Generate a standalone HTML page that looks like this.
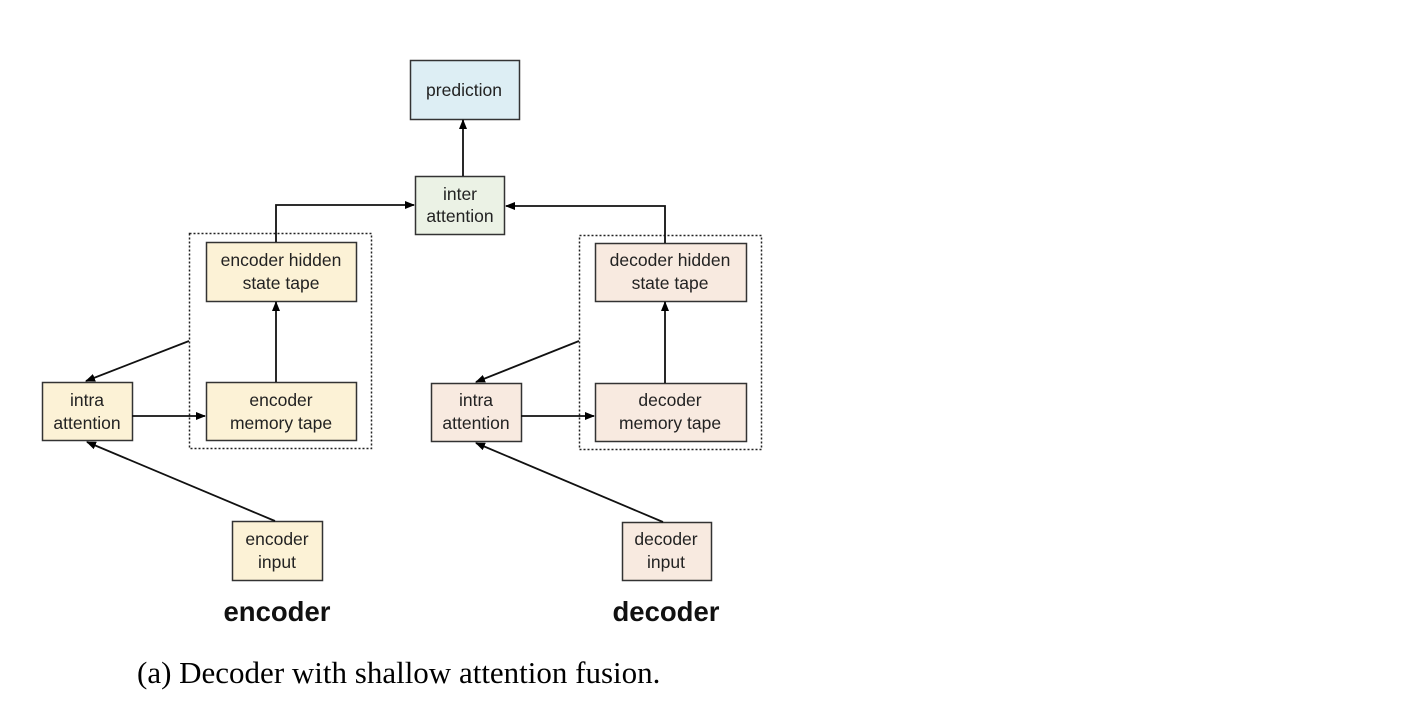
<!DOCTYPE html>
<html><head><meta charset="utf-8"><style>
html,body{margin:0;padding:0;background:#fff;}
body{width:1426px;height:702px;overflow:hidden;position:relative;}
</style></head><body>
<svg width="1426" height="702" xmlns="http://www.w3.org/2000/svg" style="position:absolute;left:0;top:0">
<defs>
<marker id="a" markerWidth="10" markerHeight="8" refX="9" refY="4" orient="auto" markerUnits="userSpaceOnUse">
<path d="M0,0 L10,4 L0,8 z" fill="#000"/></marker>
</defs>
<g font-family="Liberation Sans, Arial, sans-serif" font-size="17.5" fill="#222" text-anchor="middle">
<rect x="189.5" y="233.5" width="182" height="215" fill="none" stroke="#222" stroke-width="1.5" stroke-dasharray="2,2"/>
<rect x="579.5" y="235.5" width="182" height="214" fill="none" stroke="#222" stroke-width="1.5" stroke-dasharray="2,2"/>
<rect x="410.5" y="60.5" width="109" height="59" fill="#ddeef4" stroke="#333" stroke-width="1.5"/>
<text x="464" y="96">prediction</text>
<rect x="415.5" y="176.5" width="89" height="58" fill="#ebf2e5" stroke="#333" stroke-width="1.5"/>
<text x="460" y="200">inter</text><text x="460" y="222">attention</text>

<rect x="206.5" y="242.5" width="150" height="59" fill="#fcf2d6" stroke="#333" stroke-width="1.5"/>
<text x="281" y="266">encoder hidden</text><text x="281" y="289">state tape</text>
<rect x="206.5" y="382.5" width="150" height="58" fill="#fcf2d6" stroke="#333" stroke-width="1.5"/>
<text x="281" y="406">encoder</text><text x="281" y="429">memory tape</text>
<rect x="42.5" y="382.5" width="90" height="58" fill="#fcf2d6" stroke="#333" stroke-width="1.5"/>
<text x="87" y="406">intra</text><text x="87" y="429">attention</text>
<rect x="232.5" y="521.5" width="90" height="59" fill="#fcf2d6" stroke="#333" stroke-width="1.5"/>
<text x="277" y="545">encoder</text><text x="277" y="568">input</text>

<rect x="595.5" y="243.5" width="151" height="58" fill="#f8eae0" stroke="#333" stroke-width="1.5"/>
<text x="670" y="266">decoder hidden</text><text x="670" y="289">state tape</text>
<rect x="595.5" y="383.5" width="151" height="58" fill="#f8eae0" stroke="#333" stroke-width="1.5"/>
<text x="670" y="406">decoder</text><text x="670" y="429">memory tape</text>
<rect x="431.5" y="383.5" width="90" height="58" fill="#f8eae0" stroke="#333" stroke-width="1.5"/>
<text x="476" y="406">intra</text><text x="476" y="429">attention</text>
<rect x="622.5" y="522.5" width="89" height="58" fill="#f8eae0" stroke="#333" stroke-width="1.5"/>
<text x="666" y="545">decoder</text><text x="666" y="568">input</text>
</g>
<g stroke="#111" stroke-width="1.8" fill="none" marker-end="url(#a)">
<line x1="463" y1="176" x2="463" y2="120"/>
<polyline points="276,242 276,205 414,205"/>
<polyline points="665,243 665,206 506,206"/>
<line x1="276" y1="382" x2="276" y2="302"/>
<line x1="665" y1="383" x2="665" y2="302"/>
<line x1="132" y1="416" x2="205" y2="416"/>
<line x1="521" y1="416" x2="594" y2="416"/>
<line x1="189" y1="341" x2="86" y2="381"/>
<line x1="579" y1="341" x2="476" y2="382"/>
<line x1="275" y1="521" x2="87" y2="442"/>
<line x1="663" y1="522" x2="476" y2="443"/>
</g>
<g font-family="Liberation Sans, Arial, sans-serif" font-size="27.5" font-weight="bold" fill="#111" text-anchor="middle">
<text x="277" y="621">encoder</text>
<text x="666" y="621">decoder</text>
</g>
<text x="137" y="683" font-family="Liberation Serif, Times New Roman, serif" font-size="31" fill="#000">(a) Decoder with shallow attention fusion.</text>
</svg>
</body></html>
